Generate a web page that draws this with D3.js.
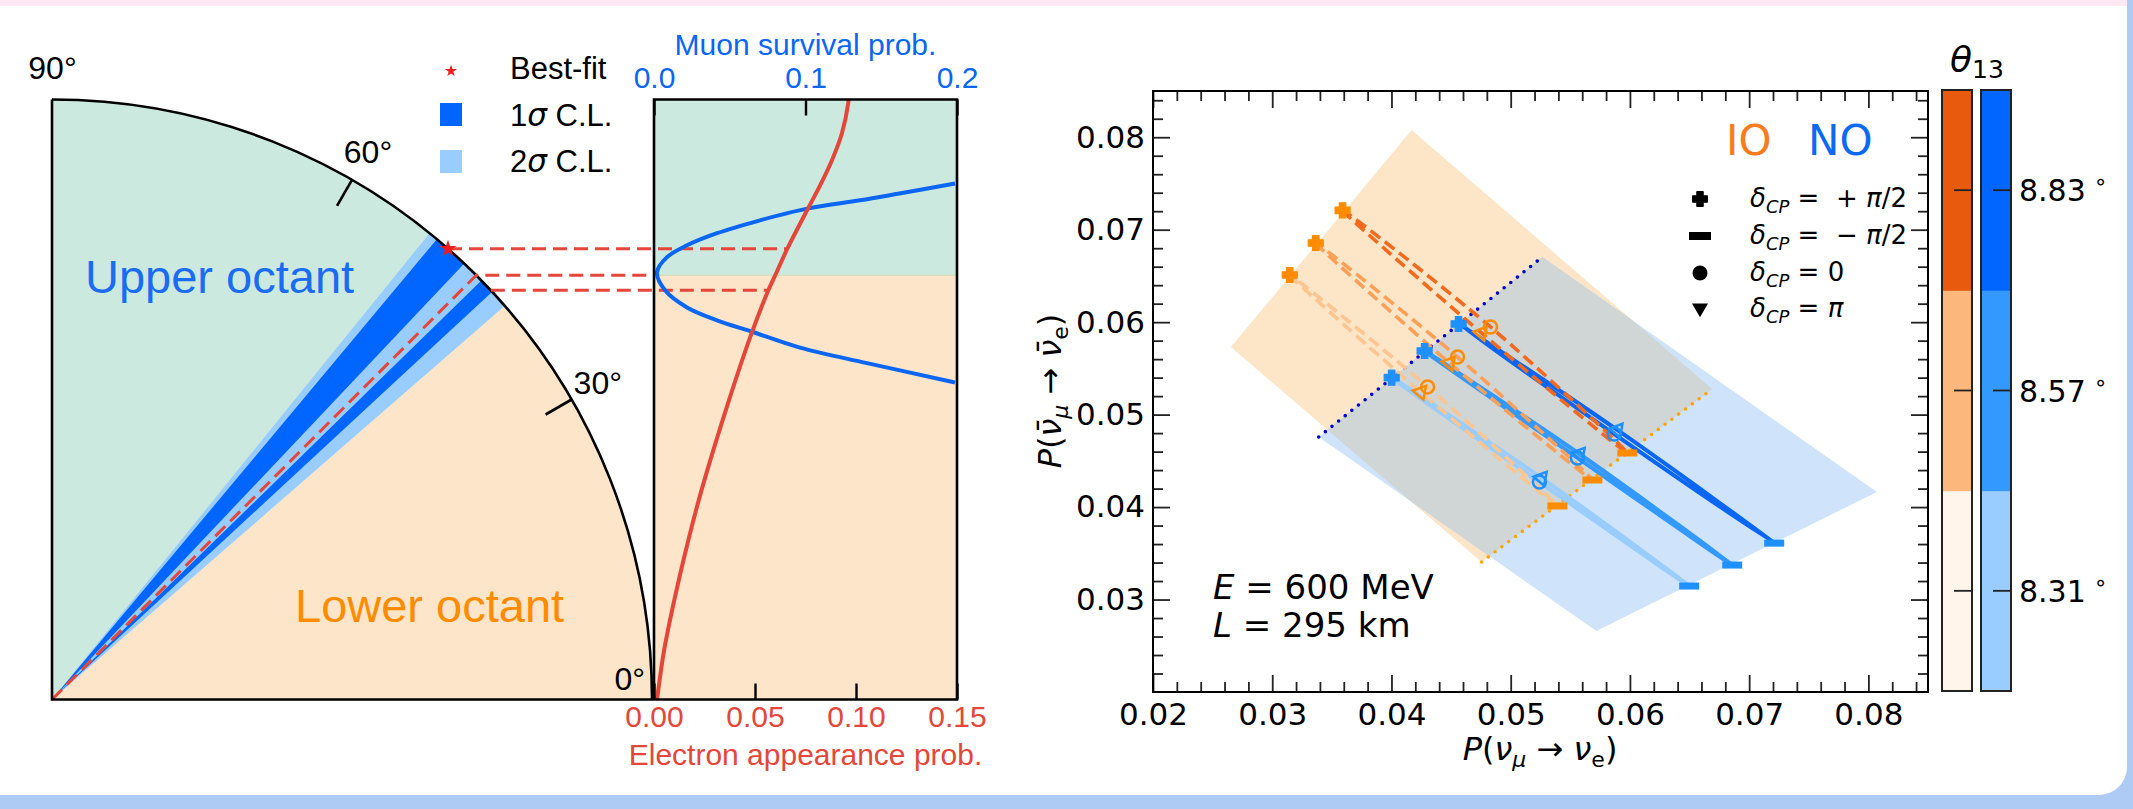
<!DOCTYPE html>
<html><head><meta charset="utf-8">
<script src="https://cdn.jsdelivr.net/npm/d3@7"></script>
<style>body{margin:0;background:#fff;} svg{display:block} text{white-space:pre}</style>
</head><body><svg id="c" width="2133" height="809"></svg>
<script>
// ================= DATA =================
// Left: theta23 octant wheel (degrees)
const sigma2Band = [41.0, 51.0];
const sigma1Bands = [[42.8, 44.3], [46.6, 50.1]];
const bestFitTheta23 = 48.7;
const maxMixTheta23 = 45.0;
const mirrorTheta23 = 43.0;
const octantBoundary = 45.0;
const wheelTickAngles = [30, 60];
const wheelLabels = ["0°", "30°", "60°", "90°"];
// Electron appearance probability vs theta23
const appTheta = [0, 4.7, 9.5, 15.4, 20.4, 29.9, 37.6, 43.0, 45.4, 48.7, 54.9, 58.5, 63.9, 70.6, 84.3, 90];
const appProb  = [0.0015, 0.0050, 0.0100, 0.0170, 0.0235, 0.0371, 0.0483, 0.0566, 0.0607, 0.0660, 0.0762, 0.0816, 0.0880, 0.0930, 0.0962, 0.0963];
// Muon survival probability vs theta23
const survTheta = [59.3, 57.5, 56.3, 54.9, 53.0, 51.0, 49.2, 47.5, 45.4, 43.0, 40.8, 39.2, 37.8, 35.9, 34.1, 31.9];
const survProb  = [0.1987, 0.162, 0.136, 0.101, 0.070, 0.0416, 0.0218, 0.0086, 0.002, 0.0073, 0.0218, 0.0416, 0.0647, 0.0964, 0.1406, 0.1987];
const appTicks = [0, 0.05, 0.10, 0.15];
const survTicks = [0, 0.1, 0.2];

// Right: bi-probability plot, theta13 = 8.31, 8.57, 8.83 deg
const theta13Labels = ["8.31", "8.57", "8.83"];
const ioPlus  = [[0.03147, 0.0651], [0.03365, 0.06856], [0.0359, 0.0721]];
const ioZero  = [[0.04303, 0.0530], [0.04554, 0.05623], [0.04831, 0.05948]];
const ioPi    = [[0.04245, 0.05244], [0.04487, 0.05558], [0.04755, 0.05883]];
const ioMinus = [[0.05392, 0.04012], [0.05685, 0.04293], [0.05978, 0.04585]];
const noPlus  = [[0.04002, 0.0540], [0.04278, 0.05688], [0.04563, 0.0598]];
const noZero  = [[0.05241, 0.04271], [0.0556, 0.04531], [0.05869, 0.0479]];
const noPi    = [[0.05258, 0.04314], [0.05577, 0.04574], [0.05894, 0.04834]];
const noMinus = [[0.06497, 0.03146], [0.06858, 0.03373], [0.0721, 0.0361]];
const ioRegion = [[0.04169, 0.08078], [0.02653, 0.05731], [0.04755, 0.03406], [0.0669, 0.05277]];
const noRegion = [[0.0339, 0.04758], [0.05266, 0.06705], [0.08072, 0.04163], [0.05719, 0.0266]];
const noDotted = [[0.0339, 0.04758], [0.05266, 0.06705]];
const ioDotted = [[0.04755, 0.03406], [0.0669, 0.05277]];
const xMajorR = [0.02, 0.03, 0.04, 0.05, 0.06, 0.07, 0.08];
const yMajorR = [0.03, 0.04, 0.05, 0.06, 0.07, 0.08];
const minorR = [0.022,0.024,0.026,0.028,0.032,0.034,0.036,0.038,0.042,0.044,0.046,0.048,0.052,0.054,0.056,0.058,0.062,0.064,0.066,0.068,0.072,0.074,0.076,0.078,0.082,0.084];
const deltaLegend = ["+π/2", "−π/2", "0", "π"];

// ================= STYLE =================
const HELV = "'Liberation Sans', Arial, sans-serif";
const DJV = "'DejaVu Sans', sans-serif";
const GREEN = "#cce9df", PEACH = "#fde5c9";
const DARKB = "#0066ff", LIGHTB = "#99ccff";
const RED = "#e5463a", BLUE = "#0b66f4";
const ioLine = ["#fdc590", "#fca058", "#f26a1e"];
const noLine = ["#99ccff", "#3399ff", "#0a66f5"];
const ioBar = ["#fff5eb", "#fcb87c", "#e85b0e"];
const noBar = ["#99ccff", "#3399ff", "#0066ff"];
const IOM = "#ff8c00", NOM = "#1e90ff";

const svg = d3.select("#c");
const W = 2133, H = 809;
const rad = d => d * Math.PI / 180;

// ---------- background card ----------
svg.append("rect").attr("width", W).attr("height", H).attr("fill", "#aecbf6");
svg.append("rect").attr("x", 0).attr("y", 0).attr("width", 2127).attr("height", 6).attr("fill", "#fde9f3");
svg.append("path").attr("d", "M0,6 H2127 V767 A28,28 0 0 1 2099,795 H0 Z").attr("fill", "#fff");

// ================= LEFT: wheel =================
const O = {x: 52, y: 699.5}, R = 600;
const hY = d3.scaleLinear([0, 1], [699.5, 99.5]);
const rS = d3.scaleLinear([0, 1], [0, R]);
const arcPt = th => [O.x + rS(Math.cos(rad(th))), hY(Math.sin(rad(th)))];
const wedge = d3.arc().innerRadius(0).outerRadius(R);
const sector = (a0, a1) => wedge({startAngle: rad(90 - a1), endAngle: rad(90 - a0)});
const gw = svg.append("g").attr("transform", `translate(${O.x},${O.y})`);
gw.append("path").attr("d", sector(octantBoundary, 90)).attr("fill", GREEN);
gw.append("path").attr("d", sector(0, octantBoundary)).attr("fill", PEACH);
gw.append("path").attr("d", sector(sigma2Band[0], sigma2Band[1])).attr("fill", LIGHTB);
sigma1Bands.forEach(b => gw.append("path").attr("d", sector(b[0], b[1])).attr("fill", DARKB));
const ap = d3.path(); ap.moveTo(0, -R); ap.arc(0, 0, R, -Math.PI / 2, 0);
gw.append("path").attr("d", ap.toString()).attr("fill", "none").attr("stroke", "#000").attr("stroke-width", 2.6);
wheelTickAngles.forEach(a => {
  const c = Math.cos(rad(a)), s = Math.sin(rad(a));
  gw.append("line").attr("x1", R * c).attr("y1", -R * s).attr("x2", (R - 30) * c).attr("y2", -(R - 30) * s)
    .attr("stroke", "#000").attr("stroke-width", 2.6);
});
// wheel labels
const wl = [[0, -7, -9.5, "end"], [30, 2, -6, "start"], [60, 16, -17, "middle"], [90, 0.5, -20.5, "middle"]];
wl.forEach((d, i) => {
  const p = arcPt(d[0]);
  svg.append("text").attr("x", p[0] + d[1]).attr("y", p[1] + d[2]).attr("text-anchor", d[3])
    .attr("font-family", HELV).attr("font-size", 32).attr("fill", "#000").text(wheelLabels[i]);
});

// ================= LEFT: probability panel =================
const xE = d3.scaleLinear([0, 0.15], [654, 957]);
const xMu = d3.scaleLinear([0, 0.2], [654, 957]);
const yB = hY(Math.sin(rad(octantBoundary)));
svg.append("rect").attr("x", 654).attr("y", 99.5).attr("width", 303).attr("height", yB - 99.5).attr("fill", GREEN);
svg.append("rect").attr("x", 654).attr("y", yB).attr("width", 303).attr("height", 699.5 - yB).attr("fill", PEACH);
svg.append("line").attr("x1", 654).attr("x2", 957).attr("y1", yB).attr("y2", yB).attr("stroke", "#d6dfc2").attr("stroke-width", 1.5);

const appAt = d3.scaleLinear().domain(appTheta).range(appProb);
// dashed guide lines
const dashStyle = s => s.attr("fill", "none").attr("stroke", RED).attr("stroke-width", 3).attr("stroke-dasharray", "14 7");
[bestFitTheta23, mirrorTheta23].forEach(th => {
  const p = arcPt(th);
  dashStyle(svg.append("line").attr("x1", p[0]).attr("y1", p[1]).attr("x2", xE(appAt(th))).attr("y2", p[1]));
});
const pm = arcPt(maxMixTheta23);
dashStyle(svg.append("path").attr("d", `M${O.x},${O.y}L${pm[0]},${pm[1]}L654,${pm[1]}`));

const clipL = svg.append("defs").append("clipPath").attr("id", "panelClip");
clipL.append("rect").attr("x", 654).attr("y", 99.5).attr("width", 303).attr("height", 600);
svg.append("path").datum(survTheta.map((t, i) => [survProb[i], t]))
  .attr("d", d3.line().x(d => xMu(d[0])).y(d => hY(Math.sin(rad(d[1])))).curve(d3.curveCatmullRom.alpha(0.5)))
  .attr("fill", "none").attr("stroke", BLUE).attr("stroke-width", 4).attr("clip-path", "url(#panelClip)");
svg.append("path").datum(appTheta.map((t, i) => [appProb[i], t]))
  .attr("d", d3.line().x(d => xE(d[0])).y(d => hY(Math.sin(rad(d[1])))).curve(d3.curveCatmullRom.alpha(0.5)))
  .attr("fill", "none").attr("stroke", RED).attr("stroke-width", 4).attr("clip-path", "url(#panelClip)");

// frame lines
svg.append("path").attr("d", `M${O.x},99.5V699.5H957V99.5H654V699.5`).attr("fill", "none").attr("stroke", "#000").attr("stroke-width", 2.6);

// star
const bp = arcPt(bestFitTheta23);
svg.append("path").attr("d", d3.symbol(d3.symbolStar, 90)()).attr("transform", `translate(${bp[0]},${bp[1]})`).attr("fill", "#ee1c1c");

// axes of panel
const gb = svg.append("g").attr("transform", "translate(0,699.5)")
  .call(d3.axisBottom(xE).tickValues(appTicks).tickSize(-16).tickPadding(6).tickFormat(d3.format(".2f")));
gb.select(".domain").remove();
gb.selectAll(".tick line").attr("stroke", "#000").attr("stroke-width", 2.4);
gb.selectAll("text").attr("fill", RED).attr("font-size", 30).attr("font-family", HELV);
const gt = svg.append("g").attr("transform", "translate(0,99.5)")
  .call(d3.axisTop(xMu).tickValues(survTicks).tickSize(-16).tickPadding(12).tickFormat(d3.format(".1f")));
gt.select(".domain").remove();
gt.selectAll(".tick line").attr("stroke", "#000").attr("stroke-width", 2.4);
gt.selectAll("text").attr("fill", BLUE).attr("font-size", 30).attr("font-family", HELV);
svg.append("text").attr("x", 805.5).attr("y", 55).attr("text-anchor", "middle").attr("font-family", HELV)
  .attr("font-size", 30).attr("fill", BLUE).text("Muon survival prob.");
svg.append("text").attr("x", 805.5).attr("y", 765).attr("text-anchor", "middle").attr("font-family", HELV)
  .attr("font-size", 30).attr("fill", RED).text("Electron appearance prob.");

// octant labels
svg.append("text").attr("x", 85).attr("y", 293).attr("font-family", HELV).attr("font-size", 47).attr("fill", "#1a6cf2").text("Upper octant");
svg.append("text").attr("x", 295).attr("y", 622).attr("font-family", HELV).attr("font-size", 47).attr("fill", "#ff8c00").text("Lower octant");

// legend
svg.append("path").attr("d", d3.symbol(d3.symbolStar, 45)()).attr("transform", "translate(451,71)").attr("fill", "#ee1c1c");
svg.append("text").attr("x", 510).attr("y", 79).attr("font-family", HELV).attr("font-size", 31).text("Best-fit");
[[DARKB, "1", 126, 103], [LIGHTB, "2", 172, 150]].forEach(d => {
  svg.append("rect").attr("x", 440).attr("y", d[3]).attr("width", 22).attr("height", 23).attr("fill", d[0]);
  const t = svg.append("text").attr("x", 510).attr("y", d[2]).attr("font-family", HELV).attr("font-size", 31);
  t.append("tspan").text(d[1]);
  t.append("tspan").attr("font-family", DJV).attr("font-style", "italic").text("σ");
  t.append("tspan").text(" C.L.");
});

// ================= RIGHT: bi-probability =================
const xR = d3.scaleLinear([0.02, 0.085], [1153, 1928]);
const yR = d3.scaleLinear([0.02, 0.085], [692, 91]);
const defs = svg.append("defs");
const polyLine = d3.line().x(d => xR(d[0])).y(d => yR(d[1])).curve(d3.curveLinearClosed);
defs.append("clipPath").attr("id", "ioClip").append("path").attr("d", polyLine(ioRegion));
const gr = svg.append("g");
gr.append("path").attr("d", polyLine(ioRegion)).attr("fill", "#fde5c8");
gr.append("path").attr("d", polyLine(noRegion)).attr("fill", "#cfe4fa");
gr.append("path").attr("d", polyLine(noRegion)).attr("fill", "#d0d5d6").attr("clip-path", "url(#ioClip)");
const segLine = d3.line().x(d => xR(d[0])).y(d => yR(d[1]));
gr.append("path").attr("d", segLine(noDotted)).attr("stroke", "#0000cd").attr("stroke-width", 3.6)
  .attr("stroke-dasharray", "0 8.5").attr("stroke-linecap", "round").attr("fill", "none");
gr.append("path").attr("d", segLine(ioDotted)).attr("stroke", "#ffa500").attr("stroke-width", 3.6)
  .attr("stroke-dasharray", "0 8.5").attr("stroke-linecap", "round").attr("fill", "none");

const ell = d3.line().x(d => xR(d[0])).y(d => yR(d[1])).curve(d3.curveCatmullRomClosed.alpha(0.5));
for (let i = 0; i < 3; i++) {
  gr.append("path").attr("d", ell([noZero[i], noPlus[i], noPi[i], noMinus[i]]))
    .attr("fill", "none").attr("stroke", noLine[i]).attr("stroke-width", 4);
}
for (let i = 0; i < 3; i++) {
  gr.append("path").attr("d", ell([ioZero[i], ioPlus[i], ioPi[i], ioMinus[i]]))
    .attr("fill", "none").attr("stroke", ioLine[i]).attr("stroke-width", 3.6).attr("stroke-dasharray", "12 6");
}
function plusPath(s, t) {
  const a = s / 2, b = t / 2;
  return `M${-b},${-a}H${b}V${-b}H${a}V${b}H${b}V${a}H${-b}V${b}H${-a}V${-b}H${-b}Z`;
}
function triPath(s) {
  return `M${-s / 2},${-0.289 * s}L${s / 2},${-0.289 * s}L0,${0.577 * s}Z`;
}
function drawMarkers(plus, zero, pi, minus, col) {
  for (let i = 0; i < 3; i++) {
    gr.append("path").attr("d", triPath(14)).attr("transform", `translate(${xR(pi[i][0])},${yR(pi[i][1])}) rotate(-20)`)
      .attr("fill", "none").attr("stroke", col).attr("stroke-width", 2.5);
    gr.append("circle").attr("cx", xR(zero[i][0])).attr("cy", yR(zero[i][1])).attr("r", 6.5)
      .attr("fill", "none").attr("stroke", col).attr("stroke-width", 2.5);
    gr.append("rect").attr("x", xR(minus[i][0]) - 10).attr("y", yR(minus[i][1]) - 3.5).attr("width", 20).attr("height", 7).attr("fill", col);
    gr.append("path").attr("d", plusPath(15, 6.5)).attr("transform", `translate(${xR(plus[i][0])},${yR(plus[i][1])})`)
      .attr("fill", col).attr("stroke", col).attr("stroke-width", 1.2).attr("stroke-linejoin", "round");
  }
}
drawMarkers(ioPlus, ioZero, ioPi, ioMinus, IOM);
drawMarkers(noPlus, noZero, noPi, noMinus, NOM);

// axes
function styleAx(g) {
  g.select(".domain").remove();
  g.selectAll(".tick line").attr("stroke", "#222").attr("stroke-width", 1.8);
  g.selectAll("text").attr("font-family", DJV).attr("font-size", 31).attr("fill", "#000");
}
const f2 = d3.format(".2f");
styleAx(svg.append("g").attr("transform", "translate(0,692)").call(d3.axisBottom(xR).tickValues(xMajorR).tickSize(-17).tickPadding(11).tickFormat(f2)));
styleAx(svg.append("g").attr("transform", "translate(0,692)").call(d3.axisBottom(xR).tickValues(minorR).tickSize(-10).tickFormat("")));
styleAx(svg.append("g").attr("transform", "translate(0,91)").call(d3.axisTop(xR).tickValues(xMajorR).tickSize(-17).tickFormat("")));
styleAx(svg.append("g").attr("transform", "translate(0,91)").call(d3.axisTop(xR).tickValues(minorR).tickSize(-10).tickFormat("")));
styleAx(svg.append("g").attr("transform", "translate(1153,0)").call(d3.axisLeft(yR).tickValues(yMajorR).tickSize(-17).tickPadding(8).tickFormat(f2)));
styleAx(svg.append("g").attr("transform", "translate(1153,0)").call(d3.axisLeft(yR).tickValues(minorR).tickSize(-10).tickFormat("")));
styleAx(svg.append("g").attr("transform", "translate(1928,0)").call(d3.axisRight(yR).tickValues(yMajorR).tickSize(-17).tickFormat("")));
styleAx(svg.append("g").attr("transform", "translate(1928,0)").call(d3.axisRight(yR).tickValues(minorR).tickSize(-10).tickFormat("")));
svg.append("rect").attr("x", 1153).attr("y", 91).attr("width", 775).attr("height", 601).attr("fill", "none").attr("stroke", "#000").attr("stroke-width", 2);

// axis titles
const xt = svg.append("text").attr("x", 1540).attr("y", 760).attr("text-anchor", "middle").attr("font-family", DJV).attr("font-size", 32);
xt.append("tspan").attr("font-style", "italic").text("P");
xt.append("tspan").text("(");
xt.append("tspan").attr("font-style", "italic").text("ν");
xt.append("tspan").attr("font-style", "italic").attr("font-size", 22).attr("dy", 7).text("μ");
xt.append("tspan").attr("dy", -7).text(" → ");
xt.append("tspan").attr("font-style", "italic").text("ν");
xt.append("tspan").attr("font-size", 22).attr("dy", 7).text("e");
xt.append("tspan").attr("dy", -7).text(")");
const yt = svg.append("text").attr("transform", "translate(1061,391) rotate(-90)").attr("text-anchor", "middle").attr("font-family", DJV).attr("font-size", 32);
yt.append("tspan").attr("font-style", "italic").text("P");
yt.append("tspan").text("(");
yt.append("tspan").attr("font-style", "italic").text("ν\u0304");
yt.append("tspan").attr("font-style", "italic").attr("font-size", 22).attr("dy", 7).text("μ");
yt.append("tspan").attr("dy", -7).text(" → ");
yt.append("tspan").attr("font-style", "italic").text("ν\u0304");
yt.append("tspan").attr("font-size", 22).attr("dy", 7).text("e");
yt.append("tspan").attr("dy", -7).text(")");

// E, L
[["E", " = 600 MeV", 599], ["L", " = 295 km", 637]].forEach(d => {
  const t = svg.append("text").attr("x", 1213).attr("y", d[2]).attr("font-family", DJV).attr("font-size", 34);
  t.append("tspan").attr("font-style", "italic").text(d[0]);
  t.append("tspan").text(d[1]);
});

// IO / NO
svg.append("text").attr("x", 1726).attr("y", 155).attr("font-family", DJV).attr("font-size", 42).attr("fill", "#f97c1c").text("IO");
svg.append("text").attr("x", 1808).attr("y", 155).attr("font-family", DJV).attr("font-size", 42).attr("fill", "#0d68f2").text("NO");

// delta legend
const legY = [199, 236, 273, 309];
const lg = svg.append("g");
lg.append("path").attr("d", plusPath(15, 6.5)).attr("transform", `translate(1700,${legY[0]})`).attr("fill", "#000").attr("stroke", "#000").attr("stroke-width", 1).attr("stroke-linejoin", "round");
lg.append("rect").attr("x", 1689).attr("y", legY[1] - 4).attr("width", 22).attr("height", 8).attr("fill", "#000");
lg.append("circle").attr("cx", 1700).attr("cy", legY[2]).attr("r", 7.5).attr("fill", "#000");
lg.append("path").attr("d", triPath(16)).attr("transform", `translate(1700,${legY[3] - 1})`).attr("fill", "#000");
deltaLegend.forEach((v, i) => {
  const t = lg.append("text").attr("x", 1750).attr("y", legY[i] + 8).attr("font-family", DJV).attr("font-size", 26);
  t.append("tspan").attr("font-style", "italic").text("δ");
  t.append("tspan").attr("font-style", "italic").attr("font-size", 18).attr("dy", 6).text("CP");
  const rest = (i < 2) ? " =  " + v.slice(0, 1) + " " : " = ";
  t.append("tspan").attr("dy", -6).text(rest);
  const tail = (i < 2) ? v.slice(1) : v;
  if (tail === "0") t.append("tspan").text("0");
  else {
    t.append("tspan").attr("font-style", "italic").text("π");
    t.append("tspan").text(tail.slice(1));
  }
});

// colorbars
const cb = d3.scaleBand([...theta13Labels].reverse(), [90, 691]);
const bars = [[1942, ioBar], [1981, noBar]];
bars.forEach(b => {
  theta13Labels.forEach((lab, i) => {
    svg.append("rect").attr("x", b[0]).attr("y", cb(lab)).attr("width", 30).attr("height", cb.bandwidth() + 0.5).attr("fill", b[1][i]);
    svg.append("line").attr("x1", b[0] + 12).attr("x2", b[0] + 30).attr("y1", cb(lab) + cb.bandwidth() / 2).attr("y2", cb(lab) + cb.bandwidth() / 2)
      .attr("stroke", "#222").attr("stroke-width", 1.8);
  });
  svg.append("rect").attr("x", b[0]).attr("y", 90).attr("width", 30).attr("height", 601).attr("fill", "none").attr("stroke", "#222").attr("stroke-width", 2);
});
theta13Labels.forEach(lab => {
  const t = svg.append("text").attr("x", 2019).attr("y", cb(lab) + cb.bandwidth() / 2 + 11).attr("font-family", DJV).attr("font-size", 30);
  t.append("tspan").text(lab);
  t.append("tspan").attr("dx", 8).attr("dy", -12).attr("font-size", 22).text("∘");
});
const th = svg.append("text").attr("x", 1977).attr("y", 72).attr("text-anchor", "middle").attr("font-family", DJV).attr("font-size", 36);
th.append("tspan").attr("font-style", "italic").text("θ");
th.append("tspan").attr("font-size", 25).attr("dy", 6).text("13");
</script>
</body></html>
